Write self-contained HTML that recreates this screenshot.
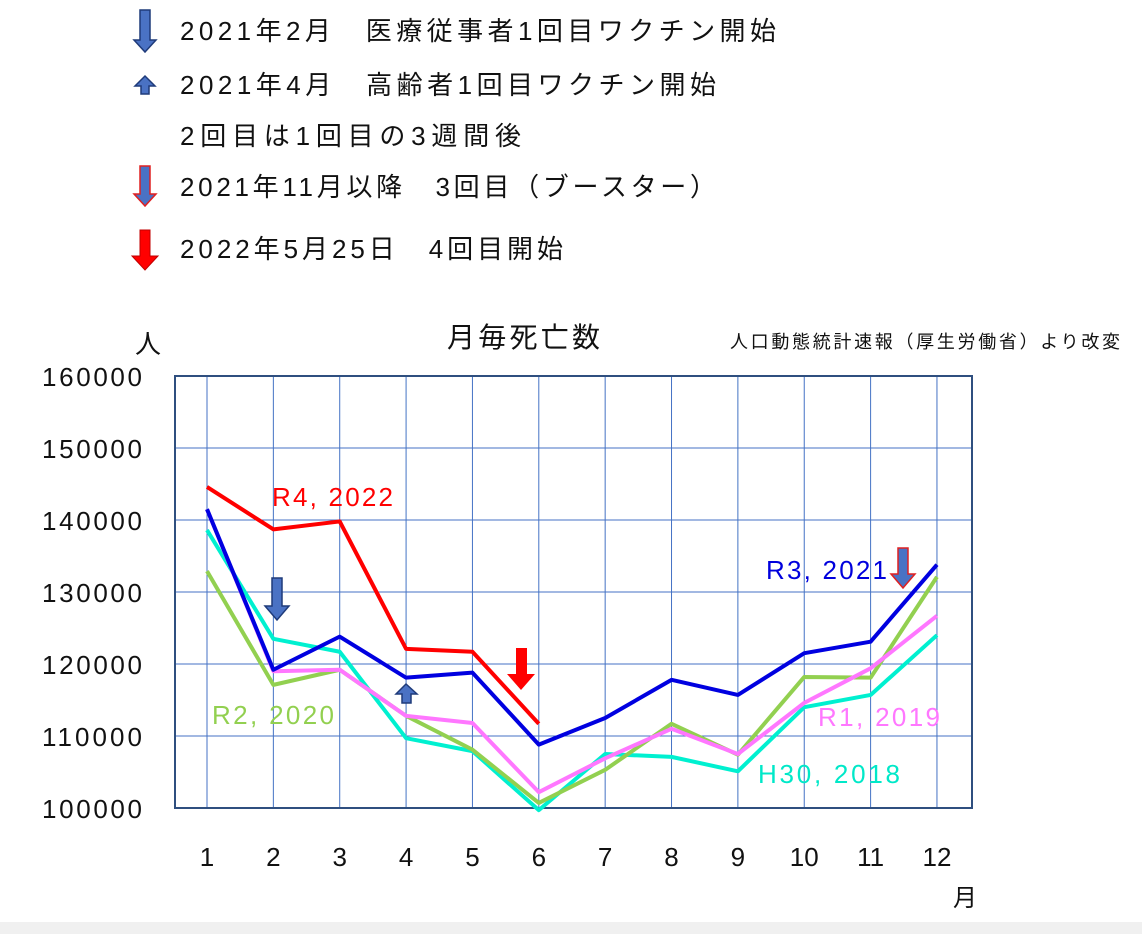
<!DOCTYPE html>
<html><head><meta charset="utf-8"><style>
body{margin:0;width:1142px;height:934px;background:#fff;overflow:hidden;font-family:"Liberation Sans","Noto Sans CJK JP",sans-serif;}
svg text{font-family:"Liberation Sans","Noto Sans CJK JP",sans-serif;}
</style></head><body>
<svg width="1142" height="934">
<rect x="0" y="922" width="1142" height="12" fill="#f0f0f0"/>
<g font-size="26" fill="#111">
<polygon points="140,10 150,10 150,40 156,40 145,52 134,40 140,40" fill="#4a72c4" stroke="#1f3b7a" stroke-width="1.5"/>
<text x="180" y="40" textLength="596" lengthAdjust="spacing">2021年2月　医療従事者1回目ワクチン開始</text>
<polygon points="141,94 149,94 149,86 155,86 145,76 135,86 141,86" fill="#4a72c4" stroke="#1f3b7a" stroke-width="1.5"/>
<text x="180" y="94" textLength="536" lengthAdjust="spacing">2021年4月　高齢者1回目ワクチン開始</text>
<text x="180" y="145" textLength="341" lengthAdjust="spacing">2回目は1回目の3週間後</text>
<polygon points="140,166 150,166 150,194 156,194 145,206 134,194 140,194" fill="#4a72c4" stroke="#e02020" stroke-width="1.5"/>
<text x="180" y="196" textLength="536" lengthAdjust="spacing">2021年11月以降　3回目（ブースター）</text>
<polygon points="140,230 150,230 150,256 158,256 145,270 132,256 140,256" fill="#ff0000" stroke="#c00000" stroke-width="1"/>
<text x="180" y="258" textLength="383" lengthAdjust="spacing">2022年5月25日　4回目開始</text>
</g>
<text x="135" y="353" font-size="26" fill="#111">人</text>
<text x="447" y="347" font-size="28" fill="#111" textLength="153" lengthAdjust="spacing">月毎死亡数</text>
<text x="730" y="348" font-size="18" fill="#111" textLength="390" lengthAdjust="spacing">人口動態統計速報（厚生労働省）より改変</text>
<text x="965" y="906" font-size="24" fill="#111" text-anchor="middle">月</text>
<g id="grid"></g>
<g id="axes"></g>
<g id="series"></g>
<g font-size="26">
<text x="272" y="506" fill="#ff0000" textLength="121">R4, 2022</text>
<text x="766" y="579" fill="#0000dd" textLength="121">R3, 2021</text>
<text x="212" y="724" fill="#92d050" textLength="122">R2, 2020</text>
<text x="818" y="726" fill="#ff77ff" textLength="122">R1, 2019</text>
<text x="758" y="783" fill="#00e8c8" textLength="142">H30, 2018</text>
</g>
<g>
<polygon points="272,578 282,578 282,606 289,606 277,620 265,606 272,606" fill="#4a72c4" stroke="#1f3b7a" stroke-width="1.5"/>
<polygon points="402,703 411,703 411,694 417,694 406,684 396,694 402,694" fill="#4a72c4" stroke="#1f3b7a" stroke-width="1.5"/>
<polygon points="516,648 527,648 527,674 535,674 521,690 507,674 516,674" fill="#ff0000"/>
<polygon points="898,548 908,548 908,574 915,574 903,588 891,574 898,574" fill="#4a72c4" stroke="#e02020" stroke-width="1.5"/>
</g>
</svg>
<script>
const months=[1,2,3,4,5,6,7,8,9,10,11,12];
const yTicks=[100000,110000,120000,130000,140000,150000,160000];
const r4_2022=[144600,138700,139800,122100,121700,111700];
const r3_2021=[141500,119200,123800,118100,118800,108800,112500,117800,115700,121500,123100,133800];
const r2_2020=[132900,117100,119200,112800,108100,100700,105300,111700,107400,118200,118100,132100];
const r1_2019=[141500,119000,119200,112800,111800,102200,106900,111000,107500,114600,119400,126700];
const h30_2018=[138600,123500,121700,109700,107900,99700,107500,107100,105100,114000,115700,124000];
const NS='http://www.w3.org/2000/svg';
const X0=175,X1=972,Y0=376,Y1=808;
const xs=m=>207+(m-1)*66.36;
const ys=v=>Y1-(v-100000)/60000*(Y1-Y0);
function mk(t,a,p){const e=document.createElementNS(NS,t);for(const k in a)e.setAttribute(k,a[k]);p.appendChild(e);return e;}
const grid=document.getElementById('grid'),axes=document.getElementById('axes'),ser=document.getElementById('series');
const bg=mk('rect',{x:X0,y:Y0,width:X1-X0,height:Y1-Y0,fill:'#fff',stroke:'#2f4f7f','stroke-width':2},grid);


yTicks.forEach(v=>{
 const l=mk('line',{x1:X0,x2:X1,y1:ys(v),y2:ys(v),stroke:'#4472c4','stroke-width':1},grid);
 
 
 const t=mk('text',{x:42,y:ys(v)+10,'font-size':26,fill:'#111',textLength:100},axes);
 t.textContent=v;
 
 
});
months.forEach(m=>{
 const l=mk('line',{x1:xs(m),x2:xs(m),y1:Y0,y2:Y1,stroke:'#4472c4','stroke-width':1},grid);
 
 
 const t=mk('text',{x:xs(m),y:866,'font-size':26,fill:'#111','text-anchor':'middle'},axes);
 t.textContent=m;
 
 
});
mk('rect',{x:X0,y:Y0,width:X1-X0,height:Y1-Y0,fill:'none',stroke:'#2f4f7f','stroke-width':2},grid);
function line(data,color,name){
 const pts=data.map((v,i)=>xs(months[i])+','+ys(v)).join(' ');
 const p=mk('polyline',{points:pts,fill:'none',stroke:color,'stroke-width':4,'stroke-linejoin':'round'},ser);
 
 
}
line(h30_2018,'#00f0d0','line-h30-2018');
line(r2_2020,'#92d050','line-r2-2020');
line(r1_2019,'#ff77ff','line-r1-2019');
line(r3_2021,'#0000e0','line-r3-2021');
line(r4_2022,'#ff0000','line-r4-2022');
</script>
</body></html>
